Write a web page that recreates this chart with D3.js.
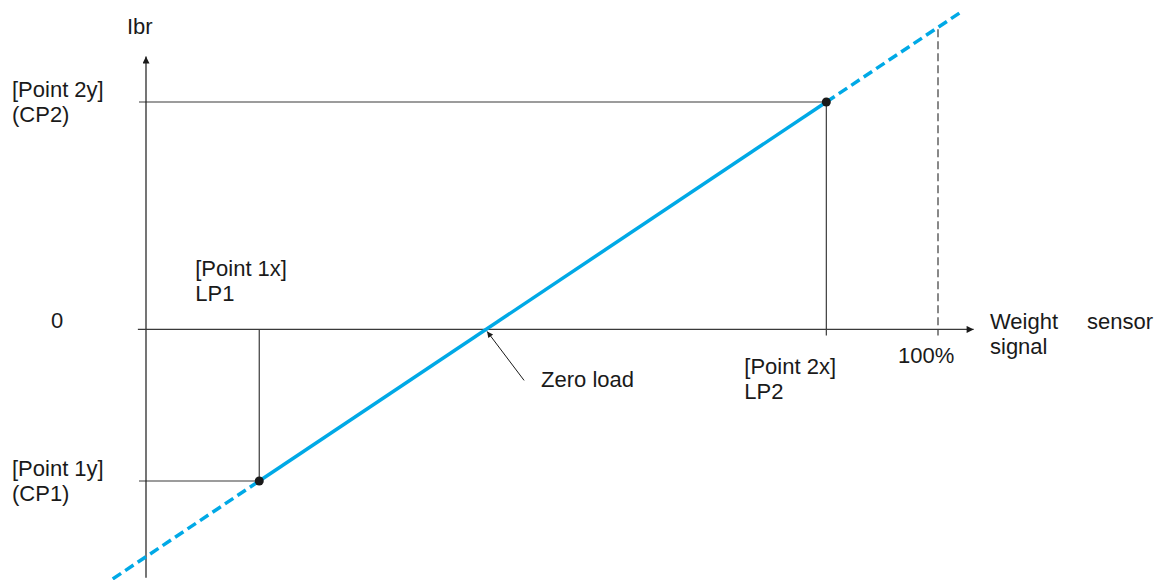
<!DOCTYPE html>
<html>
<head>
<meta charset="utf-8">
<script src="https://cdnjs.cloudflare.com/ajax/libs/d3/7.8.5/d3.min.js"></script>
<style>
  html, body { margin: 0; padding: 0; background: #fff; }
  svg { display: block; font-family: "Liberation Sans", Arial, sans-serif; }
  .lbl { font-size: 22px; fill: #1a1a1a; }
</style>
</head>
<body>
<div id="chart"></div>
<script>
(function() {

  var width = 1169,
      height = 580;

  // calibration points (x = % of weight sensor signal, y = Ibr)
  var pointNames = ["P1", "P2"];
  var pointX = [14.3, 85.9];
  var pointY = [-40, 60];

  // how far the dashed part of the line goes past the points
  var lineExtentX = [-4.2, 103];

  // axis extents in data units
  var xAxisExtent = [-0.9, 104.5];
  var yAxisExtent = [-65.5, 72];
  var fullScaleX = 100;

  var xLabels = [
    { x: pointX[0], lines: ["[Point 1x]", "LP1"] },
    { x: pointX[1], lines: ["[Point 2x]", "LP2"] }
  ];
  var yLabels = [
    { y: pointY[1], lines: ["[Point 2y]", "(CP2)"] },
    { y: 0, lines: ["0"] },
    { y: pointY[0], lines: ["[Point 1y]", "(CP1)"] }
  ];

  var x = d3.scaleLinear().domain([0, 100]).range([146, 938]);
  var y = d3.scaleLinear().domain([-40, 60]).range([481, 102]);

  var svg = d3.select("#chart")
    .append("svg")
    .attr("width", width)
    .attr("height", height);

  var defs = svg.append("defs");
  defs.append("marker")
    .attr("id", "arrow")
    .attr("viewBox", "0 0 10 10")
    .attr("refX", 10)
    .attr("refY", 5)
    .attr("markerWidth", 12)
    .attr("markerHeight", 7)
    .attr("markerUnits", "userSpaceOnUse")
    .attr("orient", "auto")
    .append("path")
    .attr("d", "M0,0 L10,5 L0,10 Z")
    .attr("fill", "#1a1a1a");

  defs.append("marker")
    .attr("id", "arrowSmall")
    .attr("viewBox", "0 0 10 10")
    .attr("refX", 10)
    .attr("refY", 5)
    .attr("markerWidth", 10)
    .attr("markerHeight", 6)
    .attr("markerUnits", "userSpaceOnUse")
    .attr("orient", "auto")
    .append("path")
    .attr("d", "M0,0 L10,5 L0,10 Z")
    .attr("fill", "#1a1a1a");

  // guide lines from points to the axes
  var guides = svg.append("g")
    .attr("stroke", "#3a3a3a")
    .attr("stroke-width", 1.2)
    .attr("fill", "none");

  pointX.forEach(function(px, i) {
    guides.append("line")
      .attr("x1", x(0) - 7).attr("x2", x(px))
      .attr("y1", y(pointY[i])).attr("y2", y(pointY[i]));
    guides.append("line")
      .attr("x1", x(px)).attr("x2", x(px))
      .attr("y1", y(pointY[i])).attr("y2", i == 1 ? y(0) + 6 : y(0));
  });

  // 100% dashed line up to the characteristic
  var slope = (pointY[1] - pointY[0]) / (pointX[1] - pointX[0]);
  function lineY(v) { return pointY[0] + slope * (v - pointX[0]); }

  guides.append("line")
    .attr("x1", x(fullScaleX)).attr("x2", x(fullScaleX))
    .attr("y1", y(lineY(fullScaleX)) + 2).attr("y2", y(0) + 6)
    .attr("stroke-dasharray", "8,4");

  // axes
  svg.append("line")
    .attr("x1", x(0)).attr("x2", x(0))
    .attr("y1", y(yAxisExtent[0])).attr("y2", y(yAxisExtent[1]))
    .attr("stroke", "#1a1a1a")
    .attr("stroke-width", 1.2)
    .attr("marker-end", "url(#arrow)");

  svg.append("line")
    .attr("x1", x(xAxisExtent[0]) - 1).attr("x2", x(xAxisExtent[1]))
    .attr("y1", y(0)).attr("y2", y(0))
    .attr("stroke", "#3a3a3a")
    .attr("stroke-width", 1.2)
    .attr("marker-end", "url(#arrow)");

  // the characteristic line: dashed outside the points, solid between
  var blue = "#00a9e6";
  var line = d3.line()
    .x(function(d) { return x(d[0]); })
    .y(function(d) { return y(d[1]); });

  svg.append("path")
    .datum([[lineExtentX[0], lineY(lineExtentX[0])], [pointX[0], pointY[0]]])
    .attr("d", line)
    .attr("stroke", blue).attr("stroke-width", 3.5)
    .attr("stroke-dasharray", "10,5")
    .attr("fill", "none");

  svg.append("path")
    .datum([[pointX[1], pointY[1]], [lineExtentX[1], lineY(lineExtentX[1])]])
    .attr("d", line)
    .attr("stroke", blue).attr("stroke-width", 3.5)
    .attr("stroke-dasharray", "10,5")
    .attr("fill", "none");

  svg.append("path")
    .datum([[pointX[0], pointY[0]], [pointX[1], pointY[1]]])
    .attr("d", line)
    .attr("stroke", blue).attr("stroke-width", 3.5)
    .attr("fill", "none");

  svg.selectAll(".pt")
    .data(pointNames)
    .enter().append("circle")
    .attr("class", "pt")
    .attr("cx", function(d, i) { return x(pointX[i]); })
    .attr("cy", function(d, i) { return y(pointY[i]); })
    .attr("r", 4.5)
    .attr("fill", "#1a1a1a");

  // zero load arrow
  var zeroX = pointX[0] - pointY[0] / slope;
  svg.append("line")
    .attr("x1", x(zeroX) + 38).attr("y1", y(0) + 51)
    .attr("x2", x(zeroX) + 1).attr("y2", y(0) + 2)
    .attr("stroke", "#1a1a1a")
    .attr("stroke-width", 1)
    .attr("marker-end", "url(#arrowSmall)");

  // labels
  function multi(g, lines, lh) {
    lines.forEach(function(t, i) {
      g.append("tspan").attr("x", g.attr("x")).attr("dy", i ? lh : 0).text(t);
    });
  }

  svg.append("text").attr("class", "lbl")
    .attr("x", 127).attr("y", 34).text("Ibr");

  yLabels.forEach(function(d) {
    var t = svg.append("text").attr("class", "lbl")
      .attr("x", d.lines.length > 1 ? 12 : 51)
      .attr("y", y(d.y) + (d.lines.length > 1 ? -5 : -1));
    multi(t, d.lines, 25);
  });

  var t1 = svg.append("text").attr("class", "lbl")
    .attr("x", x(xLabels[0].x) - 64).attr("y", y(0) - 53);
  multi(t1, xLabels[0].lines, 25);

  var t2 = svg.append("text").attr("class", "lbl")
    .attr("x", x(xLabels[1].x) - 82).attr("y", y(0) + 45);
  multi(t2, xLabels[1].lines, 25);

  svg.append("text").attr("class", "lbl")
    .attr("x", x(fullScaleX) - 40).attr("y", y(0) + 34).text("100%");

  svg.append("text").attr("class", "lbl")
    .attr("x", x(zeroX) + 55).attr("y", y(0) + 58).text("Zero load");

  var ws = svg.append("text").attr("class", "lbl")
    .attr("x", 990).attr("y", y(0) + 0);
  ws.append("tspan").attr("x", 990).text("Weight");
  ws.append("tspan").attr("x", 1087).text("sensor");
  ws.append("tspan").attr("x", 990).attr("dy", 25).text("signal");

})();
</script>
</body>
</html>
